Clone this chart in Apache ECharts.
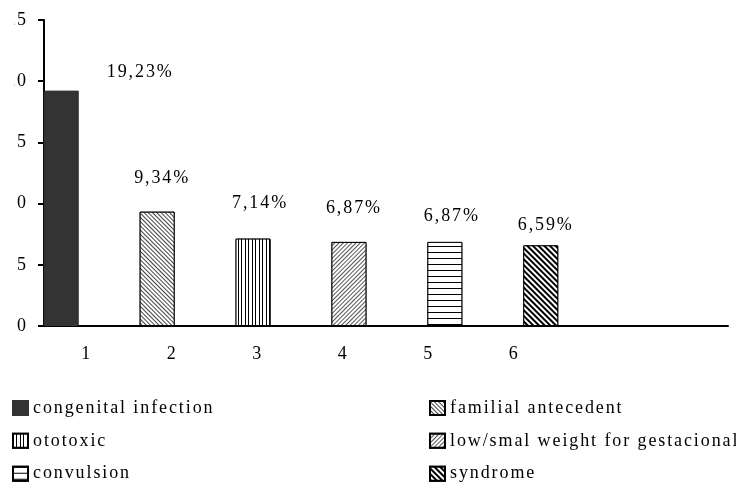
<!DOCTYPE html>
<html>
<head>
<meta charset="utf-8">
<script src="https://cdn.jsdelivr.net/npm/echarts@6/dist/echarts.min.js"></script>
<style>
  html, body { margin: 0; padding: 0; background: #fff; }
  #chart { width: 736px; height: 483px; }
</style>
</head>
<body>
<div id="chart"></div>
<script>
// Category labels along the horizontal axis (the last two slots stay empty).
const axisLabels = ['1', '2', '3', '4', '5', '6', '', ''];
// Causes, in legend order.
const causes = [
  'congenital infection',
  'familial antecedent',
  'ototoxic',
  'low/smal weight for gestacional',
  'convulsion',
  'syndrome'
];
// Share of cases per cause, in percent.
const shares = [19.23, 9.34, 7.14, 6.87, 6.87, 6.59];
// Value axis range and step.
const yMin = 0;
const yMax = 25;
const yStep = 5;

// Hand-placed nudges for the percentage labels, [dx, dy] in px.
const labelOffsets = [[79, -3], [5, -18], [7, -20], [5, -19], [7, -11], [5, -5]];

const FONT = '"Liberation Serif", "Times New Roman", serif';
const INK = '#000';

// Typeset look: glyphs are spread by a small tracking.
(function () {
  const proto = CanvasRenderingContext2D.prototype;
  ['fillText', 'strokeText', 'measureText'].forEach(function (name) {
    const base = proto[name];
    proto[name] = function () {
      this.letterSpacing = '1.9px';
      return base.apply(this, arguments);
    };
  });
})();

// Fill patterns of the bars.
const fills = [
  null,
  { symbol: 'rect', color: '#444', backgroundColor: '#fff', dashArrayX: [1, 0], dashArrayY: [1, 2], rotation: Math.PI / 4 },
  { symbol: 'rect', color: '#000', backgroundColor: '#fff', dashArrayX: [1, 2, 1, 3], dashArrayY: [1, 0] },
  { symbol: 'rect', color: '#555', backgroundColor: '#fff', dashArrayX: [1, 0], dashArrayY: [1, 2], rotation: -Math.PI / 4 },
  { symbol: 'rect', color: '#000', backgroundColor: '#fff', dashArrayX: [1, 0], dashArrayY: [1, 5] },
  { symbol: 'rect', color: '#000', backgroundColor: '#fff', dashArrayX: [1, 0], dashArrayY: [2, 2], rotation: Math.PI / 4 }
];

const textBase = { fontFamily: FONT, fontSize: 18, color: INK };

const series = causes.map(function (name, i) {
  const itemStyle = {
    color: i === 0 ? '#333' : '#fff',
    borderColor: i === 0 ? '#333' : '#000',
    borderWidth: 1
  };
  if (fills[i]) itemStyle.decal = fills[i];
  return {
    name: name,
    type: 'bar',
    xAxisIndex: 1,
    yAxisIndex: 1,
    data: [shares[i]],
    barWidth: 35,
    barGap: '174%',
    itemStyle: itemStyle,
    label: Object.assign({
      show: true,
      position: 'top',
      offset: labelOffsets[i],
      formatter: function (p) { return p.value.toFixed(2).replace('.', ',') + '%'; }
    }, textBase)
  };
});

const legendBase = {
  orient: 'vertical',
  top: 398,
  height: 120,
  padding: 0,
  itemWidth: 15,
  itemHeight: 14,
  itemGap: 13,
  icon: 'rect',
  selectedMode: false,
  textStyle: Object.assign({ lineHeight: 18 }, textBase)
};

const chart = echarts.init(document.getElementById('chart'), null, { renderer: 'canvas' });
chart.setOption({
  animation: false,
  backgroundColor: '#fff',
  grid: [
    { left: 44, right: 8, top: 20, bottom: 157 },
    { left: 44, right: 178, top: 20, bottom: 157 }
  ],
  xAxis: [
    {
      type: 'category',
      gridIndex: 0,
      data: axisLabels,
      axisLine: { lineStyle: { color: INK, width: 2 } },
      axisTick: { length: 6, lineStyle: { color: INK, width: 2 } },
      axisLabel: Object.assign({ interval: 0, margin: 18 }, textBase)
    },
    { type: 'category', gridIndex: 1, data: [''], show: false }
  ],
  yAxis: [
    {
      type: 'value',
      gridIndex: 0,
      min: yMin,
      max: yMax,
      interval: yStep,
      axisLine: { show: true, lineStyle: { color: INK, width: 2 } },
      axisTick: { show: true, length: 6, lineStyle: { color: INK, width: 2 } },
      splitLine: { show: false },
      axisLabel: Object.assign({ margin: 16 }, textBase)
    },
    { type: 'value', gridIndex: 1, min: yMin, max: yMax, show: false }
  ],
  legend: [
    Object.assign({ left: 12, data: [causes[0], causes[2], causes[4]] }, legendBase),
    Object.assign({ left: 429, data: [causes[1], causes[3], causes[5]] }, legendBase)
  ],
  graphic: [
    { type: 'rect', left: 0, top: 0, z: 100, shape: { width: 14, height: 345 }, style: { fill: '#fff' } }
  ],
  series: series
});
</script>
</body>
</html>
